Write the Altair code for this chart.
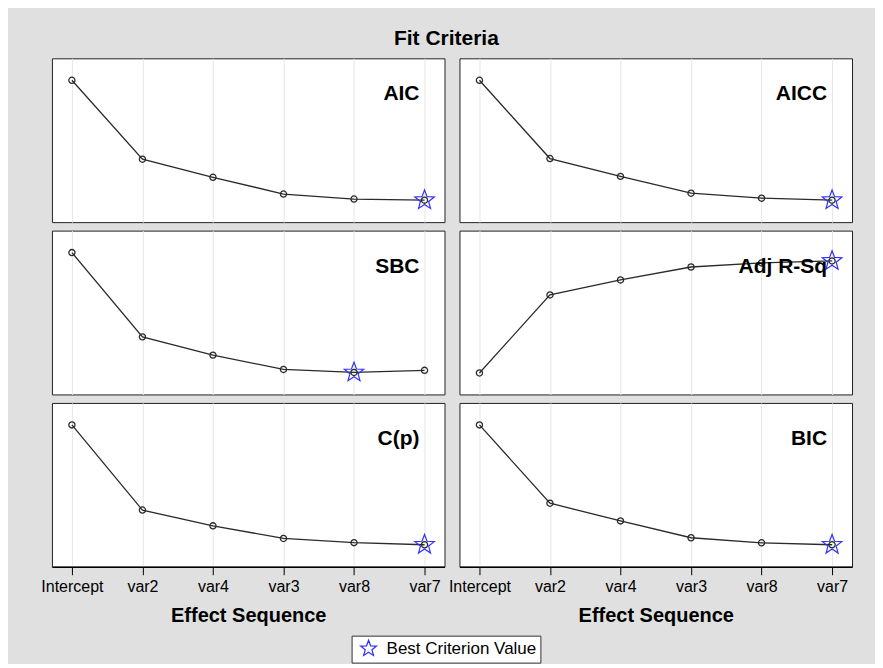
import math
import altair as alt
import pandas as pd

steps = ["Intercept", "var2", "var4", "var3", "var8", "var7"]
criteria = ["AIC", "AICC", "SBC", "Adj R-Sq", "C(p)", "BIC"]
aic = [1050.0, 767.0, 702.0, 642.0, 624.0, 620.0]
aicc = [1051.0, 770.6, 706.7, 646.4, 628.6, 621.5]
sbc = [1054.0, 777.0, 717.0, 670.0, 660.0, 667.0]
adjrsq = [0.0, 0.592, 0.706, 0.804, 0.835, 0.850]
cp = [280.0, 85.7, 49.7, 20.9, 11.3, 6.5]
bic = [1052.0, 773.0, 710.0, 650.0, 632.0, 625.0]
best_step = ["var7", "var7", "var8", "var7", "var7", "var7"]
legend_label = "Best Criterion Value"
series = [aic, aicc, sbc, adjrsq, cp, bic]
# the Adj R-Sq axis range in the original is not symmetric around its data
adjrsq_domain = [-0.163, 1.08]

FONT = "Liberation Sans"
W, H = 393, 164

# 5-point star as a custom symbol path in the unit square [-1, 1]
pts_star = []
for k in range(10):
    ang = math.radians(-90 + 36 * k)
    r = 1.0 if k % 2 == 0 else 0.42
    pts_star.append(f"{r*math.cos(ang):.4f},{r*math.sin(ang):.4f}")
STAR = "M" + "L".join(pts_star) + "Z"


def panel(name, values, best, bottom, domain=None):
    df = pd.DataFrame({"step": steps, "value": values, "lab": [legend_label] * len(steps)})
    if bottom:
        xaxis = alt.Axis(title="Effect Sequence", labelAngle=0, labelFontSize=16, labelFont=FONT,
                         labelColor="black", tickColor="black", tickSize=8, labelPadding=4,
                         titleFontSize=20, titleFont=FONT, titleFontWeight="bold", titleColor="black",
                         titlePadding=11, domainColor="black", domainWidth=1.5,
                         grid=True, gridColor="#e6e6e6")
    else:
        xaxis = alt.Axis(title=None, labels=False, ticks=False, domain=False,
                         grid=True, gridColor="#e6e6e6")
    x = alt.X("step:N", sort=steps, scale=alt.Scale(type="point", padding=0.283), axis=xaxis)
    if domain is None:
        yscale = alt.Scale(zero=False, nice=False, padding=22)
    else:
        yscale = alt.Scale(zero=False, nice=False, domain=domain)
    y = alt.Y("value:Q", scale=yscale, axis=None)
    base = alt.Chart(df).encode(x=x, y=y)
    line = base.mark_line(color="#2a2a2a", strokeWidth=1.3)
    dots = base.mark_point(shape="circle", filled=False, color="#2a2a2a", size=38,
                           strokeWidth=1.3, opacity=1)
    star = base.transform_filter(alt.datum.step == best).mark_point(
        shape=STAR, filled=False, size=420, strokeWidth=1.2, opacity=1
    ).encode(
        color=alt.Color("lab:N", scale=alt.Scale(range=["#3030ff"]),
                        legend=alt.Legend(title=None, orient="none", legendX=300, legendY=578,
                                          symbolType=STAR, symbolOffset=4,
                                          symbolSize=280, symbolStrokeWidth=1.2,
                                          symbolFillColor="transparent", symbolOpacity=1,
                                          labelFontSize=17, labelFont=FONT, labelColor="black",
                                          labelOffset=9,
                                          strokeColor="#333", fillColor="white", padding=4))
    )
    label = alt.Chart(pd.DataFrame({"t": [name]})).mark_text(
        align="right", baseline="alphabetic", font=FONT, fontSize=21, fontWeight="bold", color="black"
    ).encode(text="t:N", x=alt.value(W - 25), y=alt.value(42))
    return alt.layer(line, dots, star, label).properties(width=W, height=H)


rows = []
for r in range(3):
    cells = []
    for c in range(2):
        i = r * 2 + c
        cells.append(panel(criteria[i], series[i], best_step[i], r == 2,
                           domain=adjrsq_domain if criteria[i] == "Adj R-Sq" else None))
    rows.append(alt.hconcat(*cells, spacing=15, bounds="flush").resolve_scale(y="independent"))

chart = alt.vconcat(*rows, spacing=6.5).resolve_scale(
    y="independent", color="shared"
).resolve_legend(color="shared").properties(
    title=alt.TitleParams("Fit Criteria", fontSize=21, font=FONT, fontWeight="bold", color="black",
                          anchor="middle", offset=9),
    background="#e0e0e0",
    padding={"left": 32, "right": 22, "top": 19, "bottom": 0},
).configure_view(stroke="#222", strokeWidth=1, fill="white")

chart.save("out.html", embed_options={"renderer": "svg", "actions": False})
